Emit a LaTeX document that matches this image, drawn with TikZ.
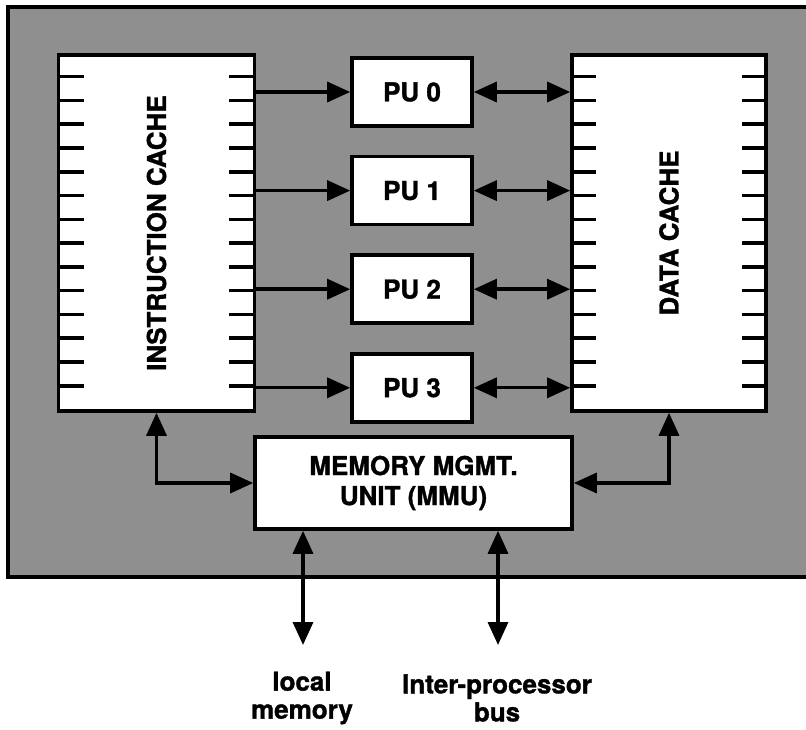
\documentclass[tikz,border=0pt]{standalone}
\usepackage{fontspec}
\setmainfont[BoldFeatures={FakeBold=1.3}]{TeX Gyre Heros}
\usepackage{tikz}
\usetikzlibrary{arrows.meta,positioning}
\definecolor{chipShade}{gray}{0.56}
\definecolor{chipLine}{gray}{0}
\tikzset{
  >={Triangle[length=23pt,width=20pt]},
  unit/.style={rectangle, draw=chipLine, line width=3.6pt, fill=white, align=center,
               inner sep=0pt, font=\fontsize{26}{30}\selectfont\bfseries},
  cache/.style={unit, minimum width=196pt, minimum height=356pt},
  pubox/.style={unit, minimum width=120pt, minimum height=68pt},
  cachetick/.style={draw=chipLine, line width=3.6pt},
  flow/.style={->, draw=chipLine, line width=3.4pt},
  link/.style={<->, draw=chipLine, line width=3.4pt},
  caption/.style={align=center, inner sep=0pt, font=\fontsize{26}{28}\selectfont\bfseries},
  sidetext/.style={rotate=90, inner sep=0pt, font=\fontsize{26}{28}\selectfont\bfseries},
}

\begin{document}
\begin{tikzpicture}[x=1pt, y=1pt, node distance=27pt]
  \useasboundingbox (0,0) rectangle (806,729);
  % chip outline, the right side runs off the page
  \fill[chipShade] (8,722) rectangle (806,152);
  \draw[chipLine, line width=4.5pt] (806,722) -- (8,722) -- (8,152) -- (806,152);

  \node[cache] (icache) at (156.5,496) {};
  \node[sidetext] (itext) at (icache) {INSTRUCTION CACHE};
  \node[cache, minimum width=194pt] (dcache) at (669,496) {};
  \node[sidetext] (dtext) at (dcache) {DATA CACHE};
  \node[pubox] (pu0) at (412,637) {PU 0};
  \node[pubox, below=of pu0] (pu1) {PU 1};
  \node[pubox, below=of pu1] (pu2) {PU 2};
  \node[pubox, below=of pu2] (pu3) {PU 3};
  \node[unit, minimum width=317pt, minimum height=92pt] (mmu) at (413.5,246) {MEMORY MGMT.\\UNIT (MMU)};
  \node[caption] (lmem) at (302,31) {local\\memory};
  \node[caption] (ipbus) at (497,31) {Inter-processor\\bus};

  \foreach \i in {0,...,13} {
    \draw[cachetick] ([yshift={-23.5pt-\i*23.77pt}]icache.north west) -- ++(27,0);
    \draw[cachetick] ([yshift={-23.5pt-\i*23.77pt}]icache.north east) -- ++(-27,0);
    \draw[cachetick] ([yshift={-23.5pt-\i*23.77pt}]dcache.north west) -- ++(26,0);
    \draw[cachetick] ([yshift={-23.5pt-\i*23.77pt}]dcache.north east) -- ++(-26,0);
  }

  \foreach \p in {pu0,pu1,pu2,pu3} {
    \draw[flow] (icache.east |- \p) -- (\p);
    \draw[link] (\p) -- (\p -| dcache.west);
  }
  \draw[link] (icache.south) |- (mmu.west);
  \draw[link] (dcache.south) |- (mmu.east);
  \coordinate (lmemend) at (303,84);
  \coordinate (busend) at (498,84);
  \draw[link] (mmu.south -| lmemend) -- (lmemend);
  \draw[link] (mmu.south -| busend) -- (busend);
\end{tikzpicture}
\end{document}
